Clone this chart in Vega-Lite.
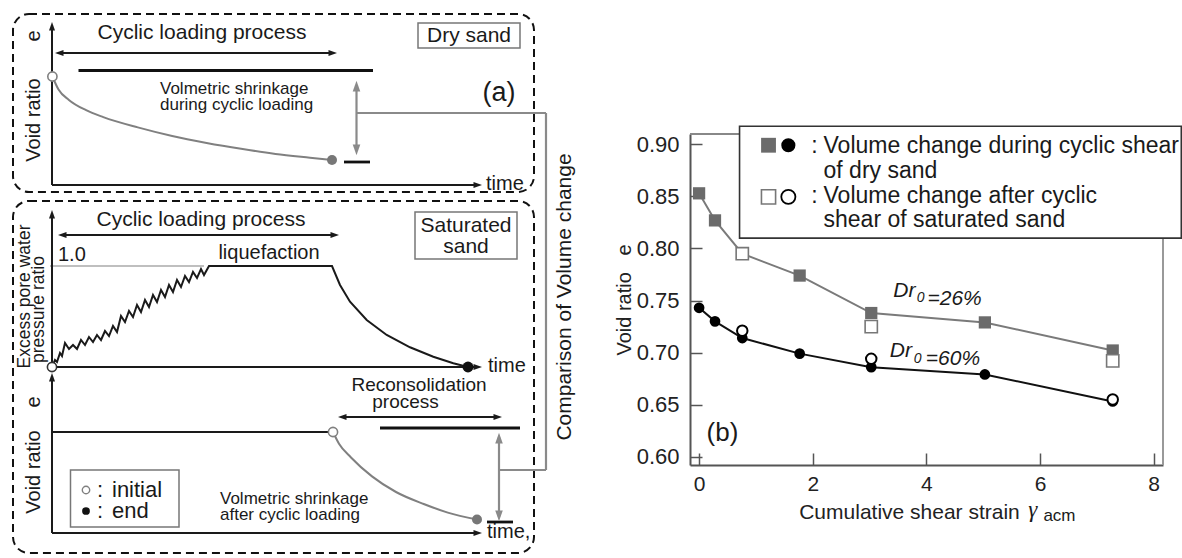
{
  "$schema": "https://vega.github.io/schema/vega-lite/v6.json",
  "padding": 0,
  "background": "white",
  "spacing": 24,
  "config": {"font": "Liberation Sans", "view": {"stroke": null}, "text": {"color": "#1a1a1a"}},
  "datasets": {
    "dboxes": [{"x1": 13, "x2": 534, "y1": 14, "y2": 192}, {"x1": 13, "x2": 534, "y1": 201, "y2": 553}],
    "sboxes": [{"x1": 418, "x2": 520, "y1": 23, "y2": 48}, {"x1": 415, "x2": 517, "y1": 212, "y2": 259}, {"x1": 70.5, "x2": 179, "y1": 470, "y2": 527}],
    "rblack": [
      {"x1": 52, "y1": 185, "x2": 52, "y2": 26},
      {"x1": 52, "y1": 185, "x2": 478, "y2": 185},
      {"x1": 58, "y1": 53, "x2": 334, "y2": 53},
      {"x1": 52, "y1": 367, "x2": 52, "y2": 214},
      {"x1": 52, "y1": 367, "x2": 478, "y2": 367},
      {"x1": 61, "y1": 235, "x2": 336, "y2": 235},
      {"x1": 52, "y1": 533, "x2": 52, "y2": 377},
      {"x1": 52, "y1": 533, "x2": 478, "y2": 533},
      {"x1": 341, "y1": 417, "x2": 499, "y2": 417},
      {"x1": 52, "y1": 432, "x2": 333, "y2": 432}
    ],
    "rthick": [{"x1": 78.5, "y1": 70.5, "x2": 373, "y2": 70.5}, {"x1": 344, "y1": 162, "x2": 370, "y2": 162}, {"x1": 380, "y1": 428, "x2": 520, "y2": 428}, {"x1": 487, "y1": 522, "x2": 513, "y2": 522}],
    "rgray": [{"x1": 356.5, "y1": 85, "x2": 356.5, "y2": 151}, {"x1": 499, "y1": 437, "x2": 499, "y2": 517}, {"x1": 356.5, "y1": 113, "x2": 546, "y2": 113}, {"x1": 546, "y1": 113, "x2": 546, "y2": 470}, {"x1": 499, "y1": 470, "x2": 546, "y2": 470}],
    "rlight": [{"x1": 50, "y1": 266, "x2": 204, "y2": 266}],
    "hup": [{"x": 52, "y": 27}, {"x": 52, "y": 215}, {"x": 52, "y": 378}],
    "hright": [{"x": 477, "y": 185}, {"x": 477, "y": 367}, {"x": 477, "y": 533}, {"x": 332, "y": 53}, {"x": 334, "y": 235}, {"x": 497, "y": 417}],
    "hleft": [{"x": 60, "y": 53}, {"x": 63, "y": 235}, {"x": 343, "y": 417}],
    "gup": [{"x": 356.5, "y": 87}, {"x": 499, "y": 439}],
    "gdown": [{"x": 356.5, "y": 149}, {"x": 499, "y": 515}],
    "cblack": [
      {"o": 0, "x": 52, "y": 367}, {"o": 1, "x": 55, "y": 360}, {"o": 2, "x": 57, "y": 362}, {"o": 3, "x": 60, "y": 353}, {"o": 4, "x": 62, "y": 356},
      {"o": 5, "x": 65, "y": 343}, {"o": 6, "x": 69, "y": 349}, {"o": 7, "x": 73, "y": 345}, {"o": 8, "x": 77, "y": 349}, {"o": 9, "x": 81, "y": 340},
      {"o": 10, "x": 85, "y": 345}, {"o": 11, "x": 89, "y": 337}, {"o": 12, "x": 93, "y": 342}, {"o": 13, "x": 97, "y": 335}, {"o": 14, "x": 101, "y": 340},
      {"o": 15, "x": 105, "y": 331}, {"o": 16, "x": 109, "y": 336}, {"o": 17, "x": 113, "y": 326}, {"o": 18, "x": 117, "y": 332}, {"o": 19, "x": 121, "y": 316},
      {"o": 20, "x": 125, "y": 322}, {"o": 21, "x": 129, "y": 311}, {"o": 22, "x": 133, "y": 317}, {"o": 23, "x": 137, "y": 305}, {"o": 24, "x": 141, "y": 312},
      {"o": 25, "x": 145, "y": 300}, {"o": 26, "x": 149, "y": 307}, {"o": 27, "x": 153, "y": 295}, {"o": 28, "x": 157, "y": 302}, {"o": 29, "x": 161, "y": 290},
      {"o": 30, "x": 165, "y": 297}, {"o": 31, "x": 169, "y": 285}, {"o": 32, "x": 173, "y": 292}, {"o": 33, "x": 177, "y": 280}, {"o": 34, "x": 181, "y": 287},
      {"o": 35, "x": 185, "y": 276}, {"o": 36, "x": 189, "y": 282}, {"o": 37, "x": 193, "y": 272}, {"o": 38, "x": 197, "y": 278}, {"o": 39, "x": 201, "y": 269},
      {"o": 40, "x": 204, "y": 275}, {"o": 41, "x": 209, "y": 266}, {"o": 42, "x": 332, "y": 266}, {"o": 43, "x": 340, "y": 285}, {"o": 44, "x": 350, "y": 301.7},
      {"o": 45, "x": 366.7, "y": 320}, {"o": 46, "x": 386.7, "y": 335}, {"o": 47, "x": 410, "y": 347.3}, {"o": 48, "x": 433.3, "y": 356.7}, {"o": 49, "x": 453.3, "y": 363.3},
      {"o": 50, "x": 468, "y": 367}
    ],
    "cgray": [
      {"id": "a", "o": 0, "x": 52.4, "y": 76.5}, {"id": "a", "o": 1, "x": 58.5, "y": 89.5}, {"id": "a", "o": 2, "x": 68.9, "y": 99.9}, {"id": "a", "o": 3, "x": 86.1, "y": 110.2},
      {"id": "a", "o": 4, "x": 103.3, "y": 117.1}, {"id": "a", "o": 5, "x": 137.8, "y": 127.4}, {"id": "a", "o": 6, "x": 172.2, "y": 136}, {"id": "a", "o": 7, "x": 206.6, "y": 142.9},
      {"id": "a", "o": 8, "x": 241.1, "y": 148.8}, {"id": "a", "o": 9, "x": 275.5, "y": 153.9}, {"id": "a", "o": 10, "x": 310, "y": 157.7}, {"id": "a", "o": 11, "x": 332, "y": 160},
      {"id": "b", "o": 0, "x": 333, "y": 432}, {"id": "b", "o": 1, "x": 339, "y": 443.7}, {"id": "b", "o": 2, "x": 351, "y": 457.5}, {"id": "b", "o": 3, "x": 372, "y": 476.4},
      {"id": "b", "o": 4, "x": 396, "y": 492}, {"id": "b", "o": 5, "x": 423.7, "y": 504}, {"id": "b", "o": 6, "x": 447.8, "y": 512.6}, {"id": "b", "o": 7, "x": 477, "y": 519.5}
    ],
    "ogray": [{"x": 52.4, "y": 76.5}, {"x": 333, "y": 432}],
    "fgray": [{"x": 332, "y": 160}, {"x": 477, "y": 519.5}],
    "oblack": [{"x": 52, "y": 367}],
    "fblack": [{"x": 468, "y": 367}],
    "lego": [{"x": 86, "y": 490}],
    "legf": [{"x": 86, "y": 511}],
    "t21": [{"t": "Cyclic loading process", "x": 202, "y": 33}, {"t": "Cyclic loading process", "x": 201, "y": 220}, {"t": "Dry sand", "x": 469, "y": 36}, {"t": "Saturated", "x": 466, "y": 226}, {"t": "sand", "x": 466, "y": 247}],
    "t20l": [{"t": "time", "x": 486, "y": 184}, {"t": "time", "x": 488, "y": 366}, {"t": "time,", "x": 487, "y": 532}, {"t": "1.0", "x": 58, "y": 255}],
    "t20c": [{"t": "liquefaction", "x": 269, "y": 253}],
    "t19": [{"t": "Reconsolidation", "x": 419, "y": 385}, {"t": "process", "x": 405.5, "y": 402}],
    "t18": [{"t": "Volmetric shrinkage", "x": 160, "y": 89}, {"t": "during cyclic loading", "x": 160, "y": 105}, {"t": "Volmetric shrinkage", "x": 220, "y": 499}, {"t": "after cyclic loading", "x": 220, "y": 515}],
    "t22": [{"t": ":", "x": 97, "y": 490}, {"t": "initial", "x": 112, "y": 490}, {"t": ":", "x": 97, "y": 511}, {"t": "end", "x": 112, "y": 511}],
    "t27": [{"t": "(a)", "x": 499, "y": 93}],
    "v20": [{"t": "Void ratio", "x": 34, "y": 120}, {"t": "e", "x": 34, "y": 36}, {"t": "Void ratio", "x": 34, "y": 472}, {"t": "e", "x": 34, "y": 402}],
    "v21": [{"t": "Comparison of Volume change", "x": 565, "y": 297}],
    "v17": [{"t": "Excess pore water", "x": 24.5, "y": 296.5}, {"t": "pressure ratio", "x": 38.5, "y": 309.5}],
    "pts": [
      {"strain": 0, "e": 0.853, "sand": "Dr26", "test": "dry"},
      {"strain": 0.28, "e": 0.827, "sand": "Dr26", "test": "dry"},
      {"strain": 0.76, "e": 0.795, "sand": "Dr26", "test": "dry"},
      {"strain": 1.77, "e": 0.774, "sand": "Dr26", "test": "dry"},
      {"strain": 3.03, "e": 0.738, "sand": "Dr26", "test": "dry"},
      {"strain": 5.03, "e": 0.729, "sand": "Dr26", "test": "dry"},
      {"strain": 7.28, "e": 0.702, "sand": "Dr26", "test": "dry"},
      {"strain": 0.76, "e": 0.795, "sand": "Dr26", "test": "saturated"},
      {"strain": 3.03, "e": 0.725, "sand": "Dr26", "test": "saturated"},
      {"strain": 7.28, "e": 0.692, "sand": "Dr26", "test": "saturated"},
      {"strain": 0, "e": 0.743, "sand": "Dr60", "test": "dry"},
      {"strain": 0.28, "e": 0.730, "sand": "Dr60", "test": "dry"},
      {"strain": 0.76, "e": 0.714, "sand": "Dr60", "test": "dry"},
      {"strain": 1.77, "e": 0.699, "sand": "Dr60", "test": "dry"},
      {"strain": 3.03, "e": 0.686, "sand": "Dr60", "test": "dry"},
      {"strain": 5.03, "e": 0.679, "sand": "Dr60", "test": "dry"},
      {"strain": 7.28, "e": 0.653, "sand": "Dr60", "test": "dry"},
      {"strain": 0.76, "e": 0.721, "sand": "Dr60", "test": "saturated"},
      {"strain": 3.03, "e": 0.694, "sand": "Dr60", "test": "saturated"},
      {"strain": 7.28, "e": 0.655, "sand": "Dr60", "test": "saturated"}
    ],
    "legtxt": [
      {"t": "Volume change during cyclic shear", "strain": 2.19, "e": 0.8913},
      {"t": "of dry sand", "strain": 2.19, "e": 0.8682},
      {"t": "Volume change after cyclic", "strain": 2.19, "e": 0.8433},
      {"t": "shear of saturated sand", "strain": 2.19, "e": 0.8208}
    ],
    "legcolon": [{"t": ":", "strain": 2.03, "e": 0.8913}, {"t": ":", "strain": 2.03, "e": 0.8433}],
    "ann": [{"t": "Dr", "strain": 3.418, "e": 0.7533}, {"t": "=26%", "strain": 4.02, "e": 0.7456}, {"t": "Dr", "strain": 3.356, "e": 0.6954}, {"t": "=60%", "strain": 3.99, "e": 0.688}],
    "annsub": [{"t": "0", "strain": 3.83, "e": 0.7485}, {"t": "0", "strain": 3.78, "e": 0.6902}],
    "panel": [{"t": "(b)", "strain": 0.132, "e": 0.6228}],
    "gam": [{"t": "γ", "strain": 5.875, "e": 0.5421}],
    "acm": [{"t": "acm", "strain": 6.06, "e": 0.5383}]
  },
  "hconcat": [
    {
      "width": 590,
      "height": 558,
      "layer": [
        {"data": {"name": "dboxes"}, "mark": {"type": "rect", "filled": false, "color": "#111", "strokeWidth": 2, "strokeDash": [8, 5], "cornerRadius": 16},
         "encoding": {"x": {"field": "x1", "type": "quantitative", "scale": {"domain": [0, 590], "nice": false, "zero": false}, "axis": null}, "x2": {"field": "x2"},
                      "y": {"field": "y1", "type": "quantitative", "scale": {"domain": [0, 558], "nice": false, "zero": false, "reverse": true}, "axis": null}, "y2": {"field": "y2"}}},
        {"data": {"name": "sboxes"}, "mark": {"type": "rect", "filled": false, "color": "#777", "strokeWidth": 1.5},
         "encoding": {"x": {"field": "x1", "type": "quantitative"}, "x2": {"field": "x2"}, "y": {"field": "y1", "type": "quantitative"}, "y2": {"field": "y2"}}},
        {"data": {"name": "rlight"}, "mark": {"type": "rule", "color": "#aaaaaa", "strokeWidth": 1.5},
         "encoding": {"x": {"field": "x1", "type": "quantitative"}, "x2": {"field": "x2"}, "y": {"field": "y1", "type": "quantitative"}, "y2": {"field": "y2"}}},
        {"data": {"name": "rgray"}, "mark": {"type": "rule", "color": "#8a8a8a", "strokeWidth": 2.2},
         "encoding": {"x": {"field": "x1", "type": "quantitative"}, "x2": {"field": "x2"}, "y": {"field": "y1", "type": "quantitative"}, "y2": {"field": "y2"}}},
        {"data": {"name": "rblack"}, "mark": {"type": "rule", "color": "#1a1a1a", "strokeWidth": 2},
         "encoding": {"x": {"field": "x1", "type": "quantitative"}, "x2": {"field": "x2"}, "y": {"field": "y1", "type": "quantitative"}, "y2": {"field": "y2"}}},
        {"data": {"name": "rthick"}, "mark": {"type": "rule", "color": "#111", "strokeWidth": 2.8},
         "encoding": {"x": {"field": "x1", "type": "quantitative"}, "x2": {"field": "x2"}, "y": {"field": "y1", "type": "quantitative"}, "y2": {"field": "y2"}}},
        {"data": {"name": "cgray"}, "mark": {"type": "line", "color": "#808080", "strokeWidth": 2, "interpolate": "monotone"},
         "encoding": {"x": {"field": "x", "type": "quantitative"}, "y": {"field": "y", "type": "quantitative"}, "detail": {"field": "id"}, "order": {"field": "o"}}},
        {"data": {"name": "cblack"}, "mark": {"type": "line", "color": "#1a1a1a", "strokeWidth": 2},
         "encoding": {"x": {"field": "x", "type": "quantitative"}, "y": {"field": "y", "type": "quantitative"}, "order": {"field": "o"}}},
        {"data": {"name": "hup"}, "mark": {"type": "point", "shape": "M0,-1L0.6,0.7L-0.6,0.7Z", "filled": true, "color": "#1a1a1a", "size": 100, "opacity": 1, "angle": 0},
         "encoding": {"x": {"field": "x", "type": "quantitative"}, "y": {"field": "y", "type": "quantitative"}}},
        {"data": {"name": "hright"}, "mark": {"type": "point", "shape": "M0,-1L0.6,0.7L-0.6,0.7Z", "filled": true, "color": "#1a1a1a", "size": 100, "opacity": 1, "angle": 90},
         "encoding": {"x": {"field": "x", "type": "quantitative"}, "y": {"field": "y", "type": "quantitative"}}},
        {"data": {"name": "hleft"}, "mark": {"type": "point", "shape": "M0,-1L0.6,0.7L-0.6,0.7Z", "filled": true, "color": "#1a1a1a", "size": 100, "opacity": 1, "angle": 270},
         "encoding": {"x": {"field": "x", "type": "quantitative"}, "y": {"field": "y", "type": "quantitative"}}},
        {"data": {"name": "gup"}, "mark": {"type": "point", "shape": "M0,-1L0.6,0.7L-0.6,0.7Z", "filled": true, "color": "#8a8a8a", "size": 160, "opacity": 1, "angle": 0},
         "encoding": {"x": {"field": "x", "type": "quantitative"}, "y": {"field": "y", "type": "quantitative"}}},
        {"data": {"name": "gdown"}, "mark": {"type": "point", "shape": "M0,-1L0.6,0.7L-0.6,0.7Z", "filled": true, "color": "#8a8a8a", "size": 160, "opacity": 1, "angle": 180},
         "encoding": {"x": {"field": "x", "type": "quantitative"}, "y": {"field": "y", "type": "quantitative"}}},
        {"data": {"name": "ogray"}, "mark": {"type": "point", "shape": "circle", "filled": true, "fill": "white", "stroke": "#808080", "strokeWidth": 1.6, "size": 85, "opacity": 1},
         "encoding": {"x": {"field": "x", "type": "quantitative"}, "y": {"field": "y", "type": "quantitative"}}},
        {"data": {"name": "fgray"}, "mark": {"type": "point", "shape": "circle", "filled": true, "color": "#777777", "size": 100, "opacity": 1},
         "encoding": {"x": {"field": "x", "type": "quantitative"}, "y": {"field": "y", "type": "quantitative"}}},
        {"data": {"name": "oblack"}, "mark": {"type": "point", "shape": "circle", "filled": true, "fill": "white", "stroke": "#333", "strokeWidth": 1.6, "size": 85, "opacity": 1},
         "encoding": {"x": {"field": "x", "type": "quantitative"}, "y": {"field": "y", "type": "quantitative"}}},
        {"data": {"name": "fblack"}, "mark": {"type": "point", "shape": "circle", "filled": true, "color": "#111", "size": 120, "opacity": 1},
         "encoding": {"x": {"field": "x", "type": "quantitative"}, "y": {"field": "y", "type": "quantitative"}}},
        {"data": {"name": "lego"}, "mark": {"type": "point", "shape": "circle", "filled": true, "fill": "white", "stroke": "#808080", "strokeWidth": 1.4, "size": 55, "opacity": 1},
         "encoding": {"x": {"field": "x", "type": "quantitative"}, "y": {"field": "y", "type": "quantitative"}}},
        {"data": {"name": "legf"}, "mark": {"type": "point", "shape": "circle", "filled": true, "color": "#111", "size": 60, "opacity": 1},
         "encoding": {"x": {"field": "x", "type": "quantitative"}, "y": {"field": "y", "type": "quantitative"}}},
        {"data": {"name": "t21"}, "mark": {"type": "text", "fontSize": 21, "align": "center", "baseline": "middle"},
         "encoding": {"x": {"field": "x", "type": "quantitative"}, "y": {"field": "y", "type": "quantitative"}, "text": {"field": "t"}}},
        {"data": {"name": "t20l"}, "mark": {"type": "text", "fontSize": 20, "align": "left", "baseline": "middle"},
         "encoding": {"x": {"field": "x", "type": "quantitative"}, "y": {"field": "y", "type": "quantitative"}, "text": {"field": "t"}}},
        {"data": {"name": "t20c"}, "mark": {"type": "text", "fontSize": 20, "align": "center", "baseline": "middle"},
         "encoding": {"x": {"field": "x", "type": "quantitative"}, "y": {"field": "y", "type": "quantitative"}, "text": {"field": "t"}}},
        {"data": {"name": "t19"}, "mark": {"type": "text", "fontSize": 19, "align": "center", "baseline": "middle"},
         "encoding": {"x": {"field": "x", "type": "quantitative"}, "y": {"field": "y", "type": "quantitative"}, "text": {"field": "t"}}},
        {"data": {"name": "t18"}, "mark": {"type": "text", "fontSize": 17, "align": "left", "baseline": "middle"},
         "encoding": {"x": {"field": "x", "type": "quantitative"}, "y": {"field": "y", "type": "quantitative"}, "text": {"field": "t"}}},
        {"data": {"name": "t22"}, "mark": {"type": "text", "fontSize": 22, "align": "left", "baseline": "middle"},
         "encoding": {"x": {"field": "x", "type": "quantitative"}, "y": {"field": "y", "type": "quantitative"}, "text": {"field": "t"}}},
        {"data": {"name": "t27"}, "mark": {"type": "text", "fontSize": 27, "align": "center", "baseline": "middle"},
         "encoding": {"x": {"field": "x", "type": "quantitative"}, "y": {"field": "y", "type": "quantitative"}, "text": {"field": "t"}}},
        {"data": {"name": "v20"}, "mark": {"type": "text", "fontSize": 20, "align": "center", "baseline": "middle", "angle": 270},
         "encoding": {"x": {"field": "x", "type": "quantitative"}, "y": {"field": "y", "type": "quantitative"}, "text": {"field": "t"}}},
        {"data": {"name": "v21"}, "mark": {"type": "text", "fontSize": 21, "align": "center", "baseline": "middle", "angle": 270},
         "encoding": {"x": {"field": "x", "type": "quantitative"}, "y": {"field": "y", "type": "quantitative"}, "text": {"field": "t"}}},
        {"data": {"name": "v17"}, "mark": {"type": "text", "fontSize": 17.5, "align": "center", "baseline": "middle", "angle": 270},
         "encoding": {"x": {"field": "x", "type": "quantitative"}, "y": {"field": "y", "type": "quantitative"}, "text": {"field": "t"}}}
      ]
    },
    {
      "width": 473,
      "height": 558,
      "layer": [
        {"data": {"name": "pts"}, "transform": [{"filter": "datum.test === 'dry'"}],
         "mark": {"type": "line", "strokeWidth": 2},
         "encoding": {
           "x": {"field": "strain", "type": "quantitative", "scale": {"domain": [-0.16, 8.165], "nice": false, "zero": false},
                 "axis": {"values": [0, 2, 4, 6, 8], "format": "d", "offset": -93, "tickSize": -12, "tickWidth": 1.5, "tickColor": "#555", "domainColor": "#555", "domainWidth": 2, "labelPadding": 20, "labelFontSize": 21, "labelColor": "#222", "grid": false,
                          "title": "Cumulative shear strain", "titleFontSize": 21, "titleFontWeight": "normal", "titleColor": "#222", "titleX": 219, "titlePadding": 7}},
           "y": {"field": "e", "type": "quantitative", "scale": {"domain": [0.592, 0.91], "range": [465, 134], "nice": false, "zero": false},
                 "axis": {"values": [0.6, 0.65, 0.7, 0.75, 0.8, 0.85, 0.9], "format": ".2f", "tickSize": -12, "tickWidth": 1.5, "tickColor": "#555", "domainColor": "#555", "domainWidth": 2, "labelPadding": 23, "labelFontSize": 22, "labelColor": "#222", "grid": false,
                          "title": "Void ratio\u00a0\u00a0\u00a0e", "titleFontSize": 20, "titleFontWeight": "normal", "titleColor": "#222", "titlePadding": 2}},
           "color": {"field": "sand", "type": "nominal", "scale": {"domain": ["Dr26", "Dr60"], "range": ["#7a7a7a", "#111111"]}, "legend": null},
           "order": {"field": "strain"}
         }},
        {"data": {"values": [{}]}, "mark": {"type": "rule", "color": "#888", "strokeWidth": 2}, "encoding": {"x": {"datum": -0.16}, "x2": {"datum": 0.712}, "y": {"datum": 0.91}}},
        {"data": {"values": [{}]}, "mark": {"type": "rule", "color": "#999", "strokeWidth": 2}, "encoding": {"x": {"datum": 8.165}, "y": {"datum": 0.592}, "y2": {"datum": 0.81}}},
        {"data": {"name": "pts"}, "transform": [{"filter": "datum.test === 'dry' && datum.sand === 'Dr26'"}],
         "mark": {"type": "point", "shape": "square", "filled": true, "color": "#6b6b6b", "size": 150, "opacity": 1},
         "encoding": {"x": {"field": "strain", "type": "quantitative"}, "y": {"field": "e", "type": "quantitative"}}},
        {"data": {"name": "pts"}, "transform": [{"filter": "datum.test === 'dry' && datum.sand === 'Dr60'"}],
         "mark": {"type": "point", "shape": "circle", "filled": true, "color": "#000", "size": 115, "opacity": 1},
         "encoding": {"x": {"field": "strain", "type": "quantitative"}, "y": {"field": "e", "type": "quantitative"}}},
        {"data": {"name": "pts"}, "transform": [{"filter": "datum.test === 'saturated' && datum.sand === 'Dr26'"}],
         "mark": {"type": "point", "shape": "square", "filled": true, "fill": "white", "stroke": "#777", "strokeWidth": 1.6, "size": 150, "opacity": 1},
         "encoding": {"x": {"field": "strain", "type": "quantitative"}, "y": {"field": "e", "type": "quantitative"}}},
        {"data": {"name": "pts"}, "transform": [{"filter": "datum.test === 'saturated' && datum.sand === 'Dr60'"}],
         "mark": {"type": "point", "shape": "circle", "filled": true, "fill": "white", "stroke": "#000", "strokeWidth": 2, "size": 110, "opacity": 1},
         "encoding": {"x": {"field": "strain", "type": "quantitative"}, "y": {"field": "e", "type": "quantitative"}}},
        {"data": {"values": [{}]}, "mark": {"type": "rect", "fill": "white", "stroke": "#333", "strokeWidth": 1.6},
         "encoding": {"x": {"datum": 0.712}, "x2": {"datum": 8.487}, "y": {"datum": 0.9175}, "y2": {"datum": 0.81}}},
        {"data": {"values": [{}]}, "mark": {"type": "point", "shape": "square", "filled": true, "color": "#6b6b6b", "size": 220, "opacity": 1}, "encoding": {"x": {"datum": 1.222}, "y": {"datum": 0.8992}}},
        {"data": {"values": [{}]}, "mark": {"type": "point", "shape": "circle", "filled": true, "color": "#000", "size": 200, "opacity": 1}, "encoding": {"x": {"datum": 1.571}, "y": {"datum": 0.8992}}},
        {"data": {"values": [{}]}, "mark": {"type": "point", "shape": "square", "filled": true, "fill": "white", "stroke": "#777", "strokeWidth": 1.6, "size": 200, "opacity": 1}, "encoding": {"x": {"datum": 1.222}, "y": {"datum": 0.8496}}},
        {"data": {"values": [{}]}, "mark": {"type": "point", "shape": "circle", "filled": true, "fill": "white", "stroke": "#000", "strokeWidth": 1.8, "size": 200, "opacity": 1}, "encoding": {"x": {"datum": 1.571}, "y": {"datum": 0.8496}}},
        {"data": {"name": "legtxt"}, "mark": {"type": "text", "fontSize": 23, "align": "left", "baseline": "alphabetic"},
         "encoding": {"x": {"field": "strain", "type": "quantitative"}, "y": {"field": "e", "type": "quantitative"}, "text": {"field": "t"}}},
        {"data": {"name": "legcolon"}, "mark": {"type": "text", "fontSize": 23, "align": "center", "baseline": "alphabetic"},
         "encoding": {"x": {"field": "strain", "type": "quantitative"}, "y": {"field": "e", "type": "quantitative"}, "text": {"field": "t"}}},
        {"data": {"name": "ann"}, "mark": {"type": "text", "fontSize": 21, "fontStyle": "italic", "align": "left", "baseline": "alphabetic"},
         "encoding": {"x": {"field": "strain", "type": "quantitative"}, "y": {"field": "e", "type": "quantitative"}, "text": {"field": "t"}}},
        {"data": {"name": "annsub"}, "mark": {"type": "text", "fontSize": 14, "fontStyle": "italic", "align": "left", "baseline": "alphabetic"},
         "encoding": {"x": {"field": "strain", "type": "quantitative"}, "y": {"field": "e", "type": "quantitative"}, "text": {"field": "t"}}},
        {"data": {"name": "panel"}, "mark": {"type": "text", "fontSize": 26, "align": "left", "baseline": "middle"},
         "encoding": {"x": {"field": "strain", "type": "quantitative"}, "y": {"field": "e", "type": "quantitative"}, "text": {"field": "t"}}},
        {"data": {"name": "gam"}, "mark": {"type": "text", "fontSize": 23, "fontStyle": "italic", "font": "Liberation Serif", "align": "center", "baseline": "alphabetic"},
         "encoding": {"x": {"field": "strain", "type": "quantitative"}, "y": {"field": "e", "type": "quantitative"}, "text": {"field": "t"}}},
        {"data": {"name": "acm"}, "mark": {"type": "text", "fontSize": 17, "align": "left", "baseline": "alphabetic"},
         "encoding": {"x": {"field": "strain", "type": "quantitative"}, "y": {"field": "e", "type": "quantitative"}, "text": {"field": "t"}}}
      ]
    }
  ]
}
